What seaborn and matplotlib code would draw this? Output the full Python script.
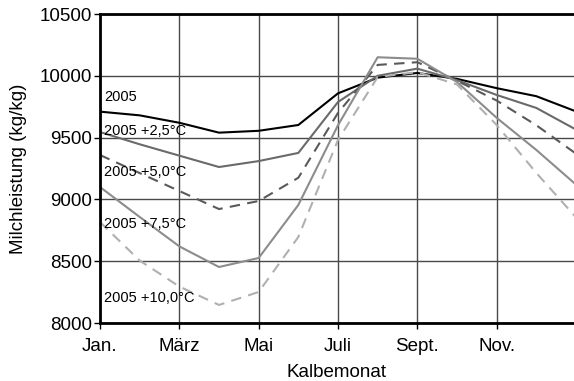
import numpy as np
import pandas as pd
import matplotlib
matplotlib.use("Agg")
import matplotlib.pyplot as plt
import seaborn as sns

months = list(range(1, 14))
tick_pos = [1, 3, 5, 7, 9, 11]
tick_labels = ["Jan.", "März", "Mai", "Juli", "Sept.", "Nov."]

s2005 = [9710, 9680, 9620, 9540, 9555, 9602, 9858, 9985, 10023, 9975, 9900, 9835, 9712]
s25 = [9545, 9446, 9354, 9262, 9310, 9376, 9788, 10000, 10058, 9965, 9845, 9740, 9565]
s50 = [9359, 9213, 9068, 8922, 8987, 9175, 9700, 10088, 10110, 9960, 9800, 9600, 9370]
s75 = [9100, 8858, 8620, 8453, 8526, 8955, 9600, 10150, 10138, 9950, 9660, 9400, 9120]
s100 = [8817, 8505, 8295, 8146, 8251, 8696, 9481, 9990, 10030, 9930, 9602, 9214, 8855]

names = ["2005", "2005 +2,5°C", "2005 +5,0°C", "2005 +7,5°C", "2005 +10,0°C"]
series = [s2005, s25, s50, s75, s100]
colors = ["#000000", "#6a6a6a", "#5a5a5a", "#8c8c8c", "#b0b0b0"]
dashes = [None, None, (5, 3.5), None, (5, 3.5)]
label_y = [9830, 9555, 9222, 8800, 8200]

sns.set_theme(style="white")
plt.rcParams["font.family"] = ["Liberation Sans", "DejaVu Sans"]

fig = plt.figure(figsize=(5.74, 3.81), dpi=100)
ax = fig.add_axes([100 / 574, 1 - 323 / 381, 474 / 574, 309 / 381])

for name, vals, col, d in zip(names, series, colors, dashes):
    df = pd.DataFrame({"Monat": months, "Wert": vals})
    sns.lineplot(data=df, x="Monat", y="Wert", ax=ax, color=col, lw=1.5)
    l = ax.lines[-1]
    if d is not None:
        l.set_dashes(d)

for name, y in zip(names, label_y):
    ax.text(1.1, y, name, fontsize=10.5, va="center", ha="left", color="black")

ax.set_xlim(1, 12.95)
ax.set_ylim(8000, 10500)
ax.set_xticks(tick_pos)
ax.set_xticklabels(tick_labels)
ax.set_yticks([8000, 8500, 9000, 9500, 10000, 10500])
ax.tick_params(axis="both", labelsize=13.5, direction="out", length=4, width=1,
               colors="black", bottom=True, left=True)
ax.tick_params(axis="x", pad=7)
ax.tick_params(axis="y", pad=2)
ax.grid(True, color="#4a4a4a", lw=1)
ax.set_axisbelow(True)
for side in ["left", "bottom", "top"]:
    ax.spines[side].set_color("black")
    ax.spines[side].set_linewidth(2)
ax.spines["right"].set_visible(False)
ax.set_xlabel("Kalbemonat", fontsize=13.5, labelpad=6.5, color="black")
ax.set_ylabel("Milchleistung (kg/kg)", fontsize=13.5, labelpad=8.5, color="black")

fig.savefig("out.png", dpi=100)
